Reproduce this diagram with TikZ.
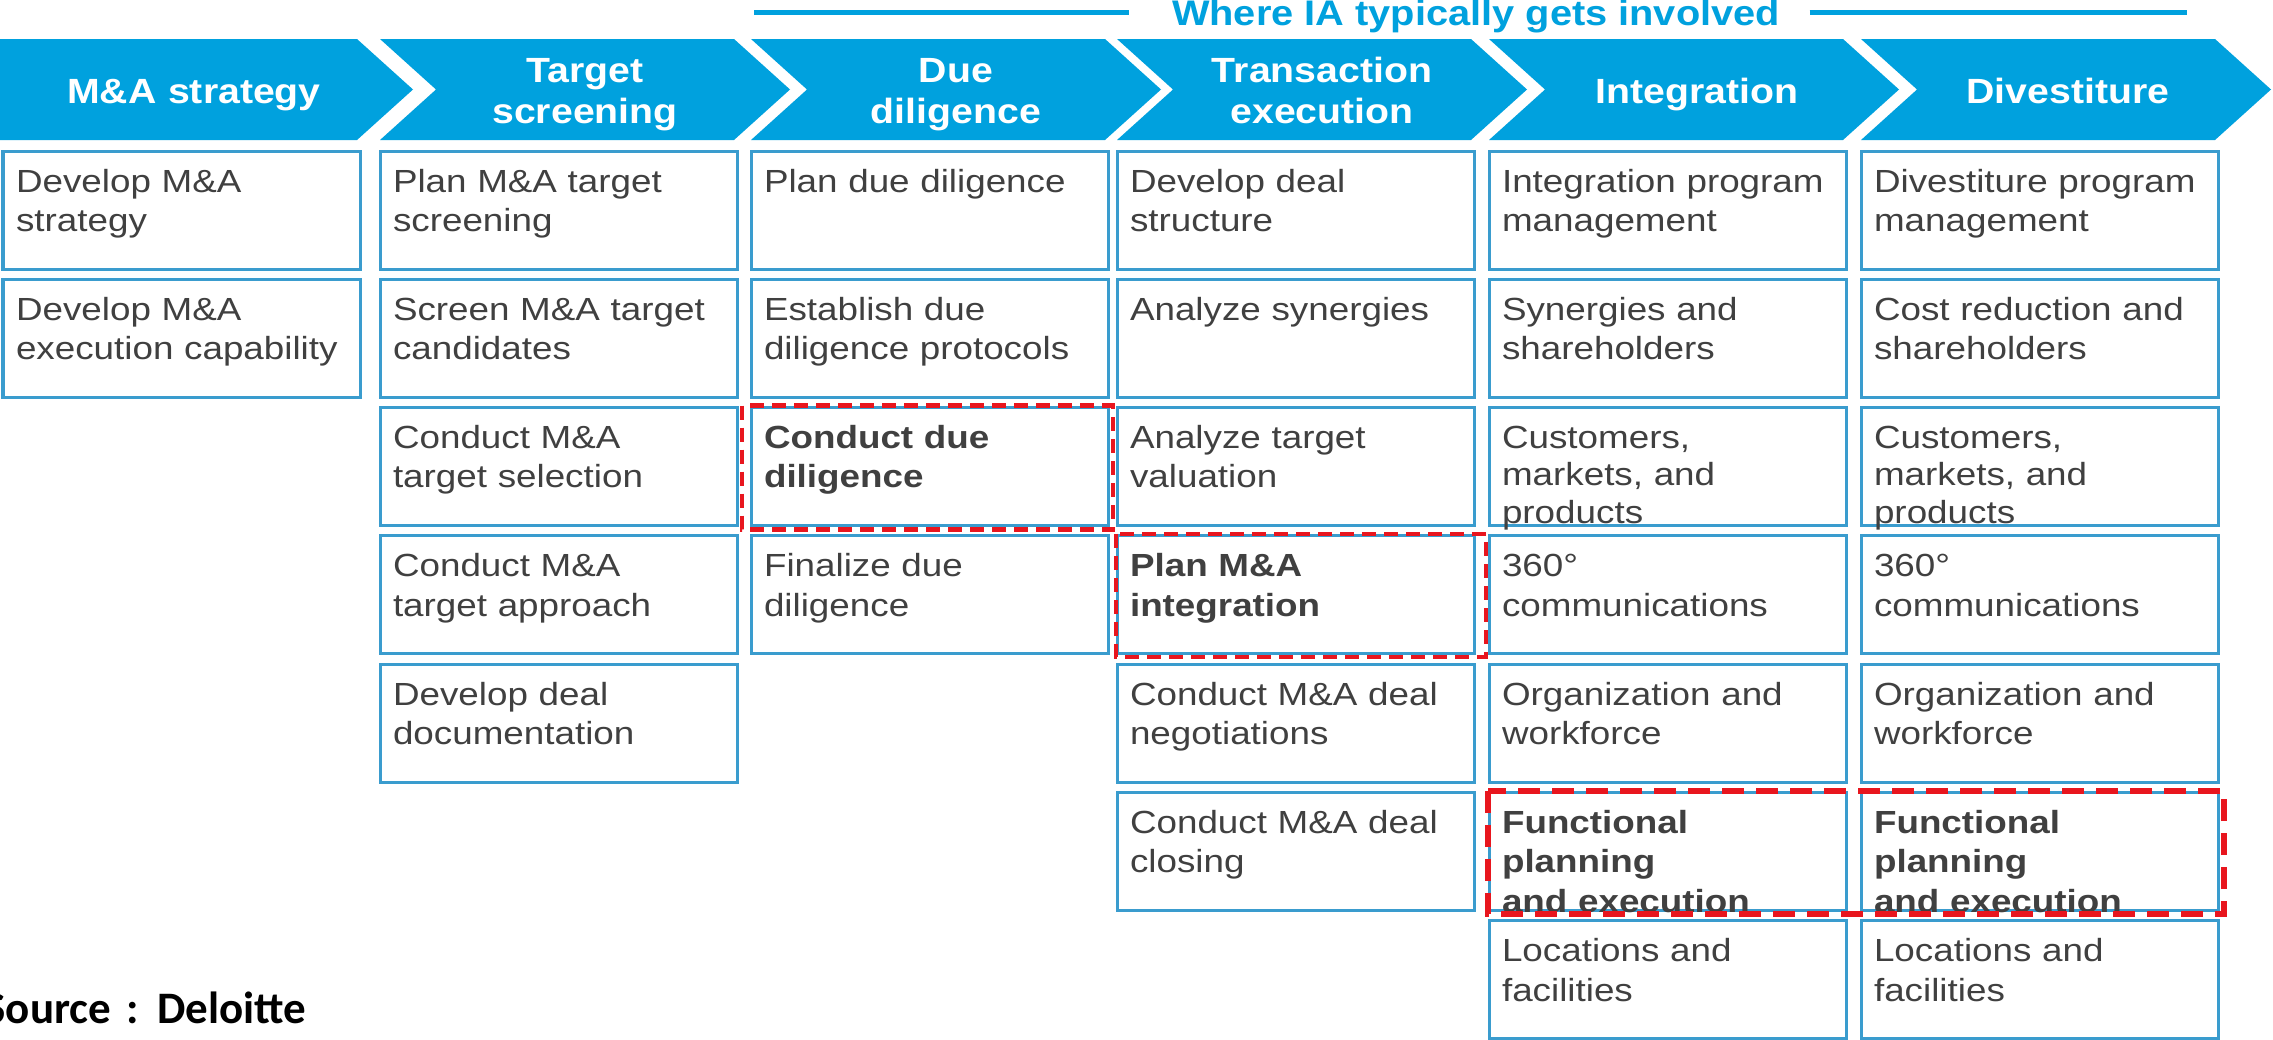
\documentclass[tikz,border=0pt]{standalone}
\usepackage{fontspec}
\setmainfont{Liberation Sans}[FakeStretch=1.15]
\newfontfamily\headfont{Liberation Sans}[FakeStretch=1.12]
\newfontfamily\srcfont{Carlito}
\usepackage{tikz}
\usetikzlibrary{positioning}
\definecolor{chevblue}{RGB}{0,161,222}
\definecolor{cellblue}{RGB}{58,156,206}
\definecolor{textgray}{RGB}{64,64,64}
\definecolor{hlred}{RGB}{232,22,30}
\tikzset{
  chev/.style={fill=chevblue},
  head/.style={anchor=base, text width=3.3cm, align=center, inner sep=0pt, text=white,
    font=\headfont\bfseries\fontsize{9.96}{11.67}\selectfont},
  cell/.style={draw=cellblue, line width=0.03cm, anchor=north west, outer sep=0pt,
    inner xsep=0.13cm, inner ysep=0pt, text width=3.31cm, align=left,
    text height=0.41cm, text depth=0.77cm, text=textgray,
    font=\fontsize{9.1}{11.2}\selectfont},
  boldcell/.style={cell, font=\bfseries\fontsize{9.1}{11.2}\selectfont},
  tightcell/.style={cell, font=\fontsize{9.1}{10.6}\selectfont},
  hlbox/.style={draw=hlred, line width=0.045cm, dash pattern=on 0.14cm off 0.08cm},
  hlwide/.style={draw=hlred, line width=0.06cm, dash pattern=on 0.22cm off 0.12cm},
  iabar/.style={draw=chevblue, line width=0.05cm}
}

\begin{document}
\begin{tikzpicture}[x=0.01cm, y=-0.01cm, node distance=0.102cm]
      \useasboundingbox (0,0) rectangle (2273,1039);
      \fill[white] (0,0) rectangle (2273,1039);

      % phase chevrons
      \fill[chev] (0,39) -- (357,39) -- (413,89.5) -- (357,140) -- (0,140) -- cycle;
      \fill[chev] (380,39) -- (734,39) -- (790,89.5) -- (734,140) -- (380,140) -- (436,89.5) -- cycle;
      \fill[chev] (751,39) -- (1105,39) -- (1161,89.5) -- (1105,140) -- (751,140) -- (807,89.5) -- cycle;
      \fill[chev] (1117,39) -- (1471,39) -- (1527,89.5) -- (1471,140) -- (1117,140) -- (1173,89.5) -- cycle;
      \fill[chev] (1489,39) -- (1843,39) -- (1899,89.5) -- (1843,140) -- (1489,140) -- (1545,89.5) -- cycle;
      \fill[chev] (1861,39) -- (2215,39) -- (2271,89.5) -- (2215,140) -- (1861,140) -- (1917,89.5) -- cycle;

      \node[head] (strat) at (194,103) {M\&A strategy};
      \node[head] (screen) at (585,82) {Target\\screening};
      \node[head] (dd) at (956,82) {Due\\diligence};
      \node[head] (tx) at (1322,82) {Transaction\\execution};
      \node[head] (integ) at (1697,103) {Integration};
      \node[head] (divest) at (2068,103) {Divestiture};

      % IA banner
      \node[anchor=base, inner xsep=0pt, text=chevblue,
        font=\headfont\bfseries\fontsize{10.1}{12}\selectfont] (ia) at (1476,25)
        {Where IA typically gets involved};
      \coordinate (iaL) at (754,12.5);
      \coordinate (iaR) at (2187,12.5);
      \draw[iabar] (iaL) -- ([xshift=-0.42cm]iaL -| ia.west);
      \draw[iabar] ([xshift=0.29cm]iaR -| ia.east) -- (iaR);

      % activities
      \node[cell] (strat1) at (3,151) {Develop M\&A\\strategy};
      \node[cell, below=of strat1] (strat2) {Develop M\&A\\execution capability};

      \node[cell] (screen1) at (380,151) {Plan M\&A target\\screening};
      \node[cell, below=of screen1] (screen2) {Screen M\&A target\\candidates};
      \node[cell, below=of screen2] (screen3) {Conduct M\&A\\target selection};
      \node[cell, below=of screen3] (screen4) {Conduct M\&A\\target approach};
      \node[cell, below=of screen4] (screen5) {Develop deal\\documentation};

      \node[cell] (dd1) at (751,151) {Plan due diligence};
      \node[cell, below=of dd1] (dd2) {Establish due\\diligence protocols};
      \node[boldcell, below=of dd2] (dd3) {Conduct due\\diligence};
      \node[cell, below=of dd3] (dd4) {Finalize due\\diligence};

      \node[cell] (tx1) at (1117,151) {Develop deal\\structure};
      \node[cell, below=of tx1] (tx2) {Analyze synergies};
      \node[cell, below=of tx2] (tx3) {Analyze target\\valuation};
      \node[boldcell, below=of tx3] (tx4) {Plan M\&A\\integration};
      \node[cell, below=of tx4] (tx5) {Conduct M\&A deal\\negotiations};
      \node[cell, below=of tx5] (tx6) {Conduct M\&A deal\\closing};

      \node[cell] (integ1) at (1489,151) {Integration program\\management};
      \node[cell, below=of integ1] (integ2) {Synergies and\\shareholders};
      \node[tightcell, below=of integ2] (integ3) {Customers,\\markets, and\\products};
      \node[cell, below=of integ3] (integ4) {360°\\communications};
      \node[cell, below=of integ4] (integ5) {Organization and\\workforce};
      \node[boldcell, below=of integ5] (integ6) {Functional\\planning\\and execution};
      \node[cell, below=of integ6] (integ7) {Locations and\\facilities};

      \node[cell] (divest1) at (1861,151) {Divestiture program\\management};
      \node[cell, below=of divest1] (divest2) {Cost reduction and\\shareholders};
      \node[tightcell, below=of divest2] (divest3) {Customers,\\markets, and\\products};
      \node[cell, below=of divest3] (divest4) {360°\\communications};
      \node[cell, below=of divest4] (divest5) {Organization and\\workforce};
      \node[boldcell, below=of divest5] (divest6) {Functional\\planning\\and execution};
      \node[cell, below=of divest6] (divest7) {Locations and\\facilities};

      % where IA gets involved
      \draw[hlbox] ([shift={(-9,-2)}]dd3.north west) rectangle ([shift={(5,4)}]dd3.south east);
      \draw[hlbox] ([shift={(-1,-2)}]tx4.north west) rectangle ([shift={(12,3)}]tx4.south east);
      \draw[hlwide] ([shift={(-1,-1)}]integ6.north west) rectangle ([shift={(6,4)}]divest6.south east);

      \node[anchor=base east, inner sep=0pt, font=\srcfont\bfseries\fontsize{12.8}{15}\selectfont] (src) at (307,1023)
        {Source\hspace{0.05cm} :\hspace{0.05cm} Deloitte};
\end{tikzpicture}
\end{document}
